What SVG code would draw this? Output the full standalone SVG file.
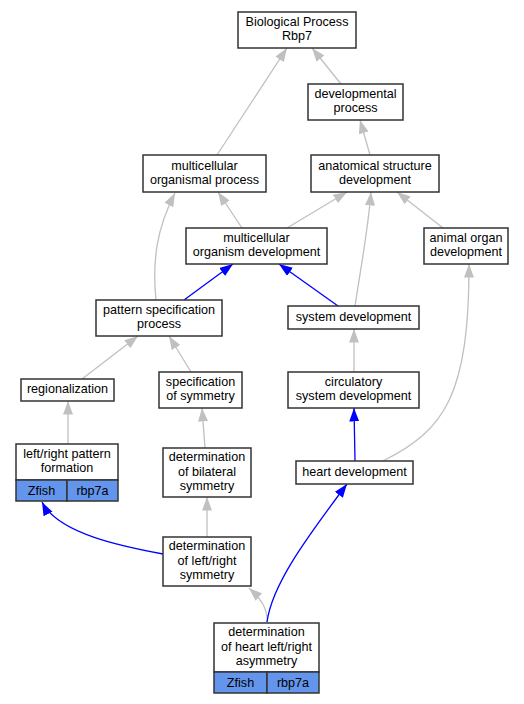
<svg xmlns="http://www.w3.org/2000/svg" width="524" height="704" viewBox="0 0 524 704">
<style>
.n{fill:#fff;stroke:#333;stroke-width:1.5}
.c{fill:#6495ed;stroke:#333;stroke-width:1.5}
text{font-family:"Liberation Sans",Arial,sans-serif;font-size:12.6px;fill:#000;text-anchor:middle}
.g{fill:none;stroke:#c0c0c0;stroke-width:1.3;marker-end:url(#ag)}
.b{fill:none;stroke:#0000ff;stroke-width:1.3;marker-end:url(#ab)}
</style>
<defs>
<marker id="ag" markerUnits="userSpaceOnUse" markerWidth="14" markerHeight="11" refX="13.5" refY="5" orient="auto"><path d="M0,0 L13.5,5 L0,10 z" fill="#c0c0c0"/></marker>
<marker id="ab" markerUnits="userSpaceOnUse" markerWidth="14" markerHeight="11" refX="13.5" refY="5" orient="auto"><path d="M0,0 L13.5,5 L0,10 z" fill="#0000ff"/></marker>
</defs>
<rect width="524" height="704" fill="#fff"/>
<g id="edges">
<path class="g" d="M217,155 L287,48"/>
<path class="g" d="M341,84 L312,48"/>
<path class="g" d="M370,155 L360,120"/>
<path class="g" d="M242,228 L218,192"/>
<path class="g" d="M156,300 C152,260 157,228 175,193"/>
<path class="g" d="M287,228 L347,192"/>
<path class="g" d="M355,306 C362,260 368,230 371,192"/>
<path class="g" d="M443,228 L397,192"/>
<path class="b" d="M184,300 L233,264"/>
<path class="b" d="M338,306 L279,264"/>
<path class="g" d="M82,379 L138,336"/>
<path class="g" d="M191,372 L169,336"/>
<path class="g" d="M354,372 L354,329"/>
<path class="g" d="M68,444 L68,401"/>
<path class="g" d="M205,448 L202,408"/>
<path class="b" d="M355,461 L354,408"/>
<path class="g" d="M383,461 C445,430 469,395 469,264"/>
<path class="g" d="M207,537 L207,497"/>
<path class="b" d="M163,554 C125,547 58,534 42,502"/>
<path class="g" d="M267.5,622 C267,608 262,600 249,588"/>
<path class="b" d="M267,622 C272,585 305,540 347,484"/>
</g>
<g id="n_bio"><rect class="n" x="238" y="12" width="118" height="36"/><text x="297" y="26">Biological Process</text><text x="297" y="40.1">Rbp7</text></g>
<g id="n_devproc"><rect class="n" x="308" y="84" width="95" height="36"/><text x="355.5" y="98">developmental</text><text x="355.5" y="112.1">process</text></g>
<g id="n_mop"><rect class="n" x="143" y="155" width="123" height="37"/><text x="204.5" y="169.5">multicellular</text><text x="204.5" y="183.6">organismal process</text></g>
<g id="n_asd"><rect class="n" x="311" y="155" width="128" height="37"/><text x="375" y="169.5">anatomical structure</text><text x="375" y="183.6">development</text></g>
<g id="n_mod"><rect class="n" x="186" y="228" width="141" height="36"/><text x="256.5" y="242">multicellular</text><text x="256.5" y="256.1">organism development</text></g>
<g id="n_aod"><rect class="n" x="424" y="228" width="84" height="36"/><text x="466" y="242">animal organ</text><text x="466" y="256.1">development</text></g>
<g id="n_psp"><rect class="n" x="96" y="300" width="126" height="36"/><text x="159" y="314">pattern specification</text><text x="159" y="328.1">process</text></g>
<g id="n_sys"><rect class="n" x="288" y="306" width="131" height="23"/><text x="353.5" y="320.5">system development</text></g>
<g id="n_reg"><rect class="n" x="21" y="379" width="93" height="22"/><text x="67.5" y="393">regionalization</text></g>
<g id="n_specsym"><rect class="n" x="159" y="372" width="83" height="36"/><text x="200.5" y="386">specification</text><text x="200.5" y="400.1">of symmetry</text></g>
<g id="n_circ"><rect class="n" x="288" y="372" width="131" height="36"/><text x="353.5" y="386">circulatory</text><text x="353.5" y="400.1">system development</text></g>
<g id="n_lrpf"><rect class="n" x="16" y="444" width="102" height="36"/><rect class="c" x="16" y="480" width="51" height="21"/><rect class="c" x="67" y="480" width="51" height="21"/><text x="67" y="458">left/right pattern</text><text x="67" y="472.1">formation</text><text x="41.5" y="494.5">Zfish</text><text x="92.5" y="494.5">rbp7a</text></g>
<g id="n_bilat"><rect class="n" x="163" y="448" width="88" height="49"/><text x="207" y="461.4">determination</text><text x="207" y="475.5">of bilateral</text><text x="207" y="489.6">symmetry</text></g>
<g id="n_heart"><rect class="n" x="296" y="461" width="117" height="23"/><text x="354.5" y="475.5">heart development</text></g>
<g id="n_detlr"><rect class="n" x="163" y="537" width="88" height="49"/><text x="207" y="550.4">determination</text><text x="207" y="564.5">of left/right</text><text x="207" y="578.6">symmetry</text></g>
<g id="n_detheart"><rect class="n" x="214" y="623" width="105" height="49"/><rect class="c" x="214" y="672" width="53" height="21"/><rect class="c" x="267" y="672" width="52" height="21"/><text x="266.5" y="636.4">determination</text><text x="266.5" y="650.5">of heart left/right</text><text x="266.5" y="664.6">asymmetry</text><text x="240.5" y="686.5">Zfish</text><text x="293" y="686.5">rbp7a</text></g>
</svg>
